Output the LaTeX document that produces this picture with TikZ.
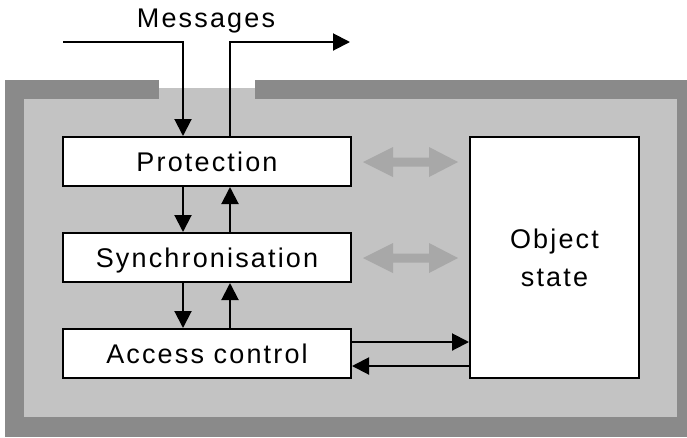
\documentclass[tikz,border=0pt]{standalone}
\usepackage{fontspec}
\setmainfont{Liberation Sans}[LetterSpace=8]
\usetikzlibrary{arrows.meta,calc}
\definecolor{frameDark}{RGB}{138,138,138}
\definecolor{frameLight}{RGB}{195,195,195}
\definecolor{arrowGray}{RGB}{168,168,168}
\tikzset{
  box/.style={draw=black,fill=white,line width=2pt,minimum width=288pt,minimum height=49pt,inner sep=0pt,
    font=\fontsize{27}{31}\selectfont,text height=19.3pt,text depth=0pt},
  lbl/.style={font=\fontsize{27}{31}\selectfont,inner sep=0pt,anchor=base},
  arr/.style={line width=2pt,-{Triangle[length=17pt,width=17pt]}},
  grayarrow/.style={fill=arrowGray,draw=none}
}
\begin{document}
\begin{tikzpicture}[x=1pt,y=-1pt]
\useasboundingbox (0,0) rectangle (687,437);
% frame
\fill[frameDark] (5,80) rectangle (687,437);
\fill[white] (159,79) rectangle (255,88);
\fill[frameLight] (24,99) rectangle (677,417);
\fill[frameLight] (159,88) rectangle (255,99.5);
% boxes
\node[box] (prot) at (207,161.5) {Protection};
\node[box] (sync) at (207,257.5) {Synchronisation};
\node[box] (acc) at (207,353.5) {Access control};
\node[draw=black,fill=white,line width=2pt,minimum width=169pt,minimum height=241pt,inner sep=0pt] (obj) at (554.5,257.5) {};
\node[lbl] (objA) at (554.5,248) {Object};
\node[lbl] (objB) at (554.5,286) {state};
\node[lbl] (msg) at (206,27) {Messages};
% messages arrows
\coordinate (inStart) at (63,42);
\coordinate (outEnd) at (350,42);
\draw[arr] (inStart) -| ([xshift=-24pt]prot.north);
\draw[arr] ([xshift=23pt]prot.north) |- (outEnd);
% vertical arrows
\draw[arr] ([xshift=-24pt]prot.south) -- ([xshift=-24pt]sync.north);
\draw[arr] ([xshift=23pt]sync.north) -- ([xshift=23pt]prot.south);
\draw[arr] ([xshift=-24pt]sync.south) -- ([xshift=-24pt]acc.north);
\draw[arr] ([xshift=23pt]acc.north) -- ([xshift=23pt]sync.south);
% access control <-> object state
\draw[arr] ([yshift=11.5pt]acc.east) -- ([yshift=11.5pt]acc.east -| obj.west);
\draw[arr] ([yshift=-12.5pt]acc.east -| obj.west) -- ([yshift=-12.5pt]acc.east);
% gray double arrows
\foreach \cy in {162,258}{
  \fill[grayarrow] (363,\cy) -- (393,\cy-15) -- (393,\cy-4.5) -- (429,\cy-4.5) -- (429,\cy-15)
    -- (458,\cy) -- (429,\cy+15) -- (429,\cy+4.5) -- (393,\cy+4.5) -- (393,\cy+15) -- cycle;
}
\end{tikzpicture}
\end{document}
